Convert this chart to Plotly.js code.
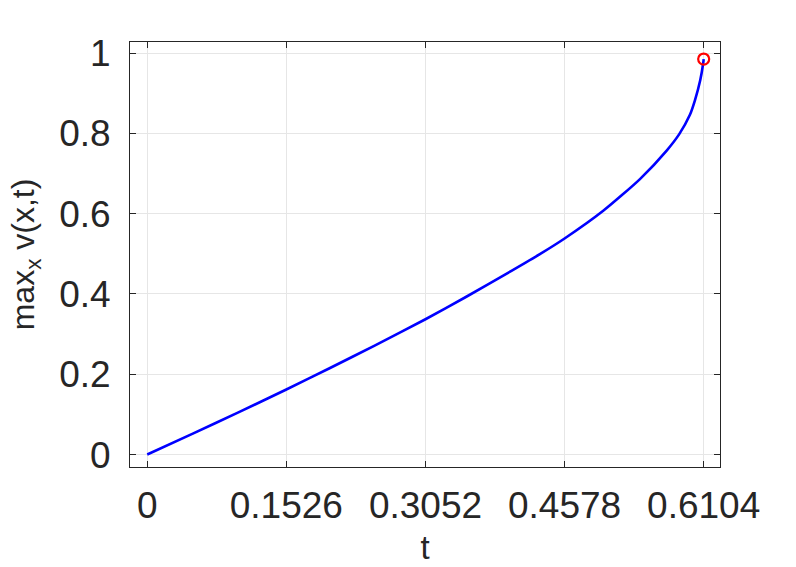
<!DOCTYPE html>
<html>
<head>
<meta charset="utf-8">
<script src="https://cdn.plot.ly/plotly-3.0.1.min.js"></script>
<style>html,body{margin:0;padding:0;background:#fff;}#chart{width:796px;height:567px;}</style>
</head>
<body>
<div id="chart"></div>
<script>
// time samples and max_x v(x,t)
var tValues = [0, 0.05, 0.1, 0.1526, 0.2, 0.25, 0.3052, 0.35, 0.4, 0.4307, 0.4578, 0.5002, 0.5405, 0.5698, 0.5836, 0.5953, 0.6008, 0.6066, 0.6099, 0.6104];
var vValues = [0, 0.052, 0.105, 0.162, 0.215, 0.272, 0.337, 0.393, 0.458, 0.499, 0.538, 0.607, 0.686, 0.757, 0.798, 0.846, 0.882, 0.932, 0.975, 0.985];
var endT = [0.6104];
var endV = [0.985];
var xTicks = [0, 0.1526, 0.3052, 0.4578, 0.6104];
var xTickLabels = ['0', '0.1526', '0.3052', '0.4578', '0.6104'];
var yTicks = [0, 0.2, 0.4, 0.6, 0.8, 1];
var yTickLabels = ['0', '0.2', '0.4', '0.6', '0.8', '1'];

var traces = [
  {x: tValues, y: vValues, type: 'scatter', mode: 'lines',
   line: {color: '#0000ff', width: 2.6, shape: 'spline', smoothing: 0.6}, hoverinfo: 'skip'},
  {x: endT, y: endV, type: 'scatter', mode: 'markers',
   marker: {symbol: 'circle-open', size: 11, color: '#ff0000', line: {color: '#ff0000', width: 2.2}}}
];

var axisCommon = {
  showline: true, linecolor: '#262626', linewidth: 1, mirror: 'ticks',
  ticks: 'inside', ticklen: 6, tickwidth: 1, tickcolor: '#262626',
  showgrid: true, gridcolor: '#e6e6e6', gridwidth: 1, zeroline: false,
  tickfont: {family: 'Liberation Sans, Arial, sans-serif', size: 37, color: '#262626'},
  tickmode: 'array', fixedrange: true
};

var layout = {
  width: 796, height: 567,
  margin: {l: 130, r: 76, t: 42, b: 100, pad: 0},
  paper_bgcolor: '#ffffff', plot_bgcolor: '#ffffff',
  showlegend: false,
  xaxis: Object.assign({}, axisCommon, {
    range: [-0.0189, 0.6283], tickvals: xTicks, ticktext: xTickLabels,
    ticklabelstandoff: 6,
    title: {text: 't', standoff: 10, font: {family: 'Liberation Sans, Arial, sans-serif', size: 33, color: '#262626'}}
  }),
  yaxis: Object.assign({}, axisCommon, {
    range: [-0.031, 1.0274], tickvals: yTicks, ticktext: yTickLabels,
    ticklabelstandoff: 11,
    title: {text: 'max<sub>x</sub> v(x,t)', standoff: 14, font: {family: 'Liberation Sans, Arial, sans-serif', size: 32, color: '#262626'}}
  })
};

Plotly.newPlot('chart', traces, layout, {displayModeBar: false, staticPlot: true});
</script>
</body>
</html>
